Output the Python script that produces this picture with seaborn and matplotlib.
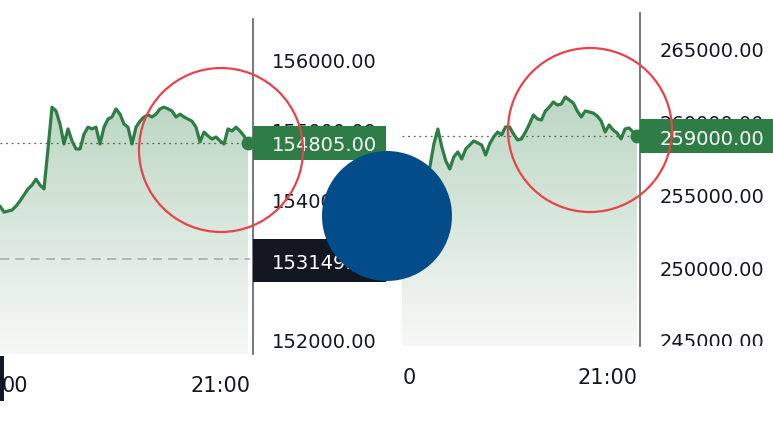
import numpy as np
import pandas as pd
import matplotlib
matplotlib.use("Agg")
import matplotlib.pyplot as plt
import seaborn as sns
from matplotlib.patches import Rectangle, Circle, Polygon
from matplotlib.colors import LinearSegmentedColormap
from matplotlib.transforms import blended_transform_factory

# left chart (price, sampled evenly over the session)
left_prices = [153905, 153820, 153835, 153850, 153905, 153980, 154065, 154150, 154205, 154290,
               154205, 154150, 154720, 155315, 155260, 155075, 154790, 155005, 154835, 154720,
               154720, 154930, 155030, 155005, 155030, 154790, 155030, 155145, 155175, 155290,
               155215, 155075, 155030, 154790, 155030, 155115, 155175, 155205, 155175, 155215,
               155290, 155315, 155290, 155260, 155175, 155215, 155175, 155145, 155115, 155030,
               154820, 154960, 154905, 154860, 154890, 154835, 154790, 155005, 154975, 155030,
               154975, 154905, 154805]
left_last = 154805
left_prev = 153149
left_yticks = [152000, 153000, 154000, 155000, 156000]
left_xlabels = ["00", "21:00"]

# right chart
right_prices = [256400, 256330, 256470, 256260, 256400, 256330, 256470, 256880, 258465, 259495,
                258260, 257295, 256745, 257570, 257915, 257430, 258120, 258395, 258670, 258535,
                258395, 257705, 258465, 258945, 259290, 259085, 259635, 259635, 259150, 258740,
                258810, 259290, 259840, 260460, 260185, 260115, 260735, 261010, 261355, 261145,
                261215, 261700, 261490, 261285, 260735, 260320, 260735, 260665, 260595, 260390,
                260045, 259290, 259770, 259425, 259220, 258810, 259495, 259565, 259290, 259000]
right_last = 259000
right_yticks = [245000, 250000, 255000, 260000, 265000]
right_xlabels = ["0", "21:00"]

W, H = 773, 435
GREEN = "#2e7d46"
DARK = "#131722"

sns.set_theme(style="white")
plt.rcParams["font.family"] = ["DejaVu Sans"]


def frac(x0, y0, x1, y1):
    return [x0 / W, 1 - y1 / H, (x1 - x0) / W, (y1 - y0) / H]


fill_cmap = LinearSegmentedColormap.from_list("fill", ["#f7f9f7", "#a8cbb1"])


def draw_panel(ax, prices, xlim, ylim, yticks, xticks, xlabels, last, pad_px):
    df = pd.DataFrame({"t": np.arange(len(prices)), "price": prices})
    grad = np.linspace(0, 1, 256).reshape(-1, 1)
    im = ax.imshow(grad, extent=[xlim[0], xlim[1], ylim[0], ylim[1]], origin="lower",
                   aspect="auto", cmap=fill_cmap, zorder=1)
    verts = np.column_stack([np.r_[df.t, df.t[::-1]],
                             np.r_[df.price, np.full(len(df), ylim[0])]])
    poly = Polygon(verts, closed=True, facecolor="none", edgecolor="none")
    ax.add_patch(poly)
    im.set_clip_path(poly)
    ax.plot([0, df.t.iloc[-1]], [last, last], color="#4f6f58", lw=0.9, ls=(0, (1.5, 3)), zorder=2)
    sns.lineplot(data=df, x="t", y="price", ax=ax, color=GREEN, linewidth=2.3, zorder=3)
    ax.plot(df.t.iloc[-1], last, "o", color=GREEN, ms=9, zorder=4, clip_on=False)
    ax.set_xlim(*xlim)
    ax.set_ylim(*ylim)
    ax.yaxis.tick_right()
    ax.set_yticks(yticks)
    ax.set_yticklabels([f"{v:.2f}" for v in yticks])
    ax.set_xticks(xticks)
    ax.set_xticklabels(xlabels)
    ax.tick_params(axis="y", length=0, pad=pad_px * 0.72, labelsize=14, labelcolor=DARK)
    ax.tick_params(axis="x", length=0, pad=15, labelsize=15, labelcolor=DARK)
    for s in ["top", "left", "bottom"]:
        ax.spines[s].set_visible(False)
    ax.spines["right"].set_color("#6a6d78")
    ax.spines["right"].set_linewidth(1.3)
    ax.set_xlabel("")
    ax.set_ylabel("")


def tag(ax, value, height, text, color, pad_px, ax_w):
    tr = blended_transform_factory(ax.transAxes, ax.transData)
    ax.add_patch(Rectangle((1, value - height / 2), 0.6, height, transform=tr,
                           facecolor=color, edgecolor="none", clip_on=False, zorder=5))
    ax.text(1 + pad_px / ax_w, value, text, transform=tr, color="white", fontsize=14,
            ha="left", va="center_baseline", zorder=6, clip_on=False)


fig = plt.figure(figsize=(W / 100, H / 100), dpi=100)

axl = fig.add_axes(frac(0, 20, 253, 355))
draw_panel(axl, left_prices, (0, 63.25), (151800, 156570), left_yticks,
           [3.75, 55.25], left_xlabels, left_last, 19)
axl.plot([0, 62.5], [left_prev, left_prev], color="#a3a6ad", lw=1.1, ls=(0, (6, 4)), zorder=2)
tag(axl, left_last, 484, f"{left_last:.2f}", GREEN, 19, 253)
tag(axl, left_prev - 20, 612, f"{left_prev:.2f}", DARK, 19, 253)

axr = fig.add_axes(frac(402, 14, 640, 347))
draw_panel(axr, right_prices, (0, 59.75), (244565, 267475), right_yticks,
           [1.75, 51.5], right_xlabels, right_last, 20)
tag(axr, right_last, 2340, f"{right_last:.2f}", GREEN, 20, 238)

# overlay in pixel coordinates: crop gaps and the drawn-on circles
ov = fig.add_axes([0, 0, 1, 1], zorder=10)
ov.set_xlim(0, W)
ov.set_ylim(H, 0)
ov.axis("off")
ov.patch.set_alpha(0)
ov.add_patch(Rectangle((386, 0), 16, H, facecolor="white", edgecolor="none"))
ov.add_patch(Rectangle((641, 347), 132, 30, facecolor="white", edgecolor="none"))
ov.add_patch(Rectangle((0, 357), 4, 45, facecolor=DARK, edgecolor="none"))
ov.add_patch(Circle((221, 151), 82, facecolor="none", edgecolor="#e8424c", lw=1.6))
ov.add_patch(Circle((590, 131), 82, facecolor="none", edgecolor="#e8424c", lw=1.6))
ov.add_patch(Circle((387, 217), 65, facecolor="#024c8a", edgecolor="none"))

fig.savefig("out.png", dpi=100)
